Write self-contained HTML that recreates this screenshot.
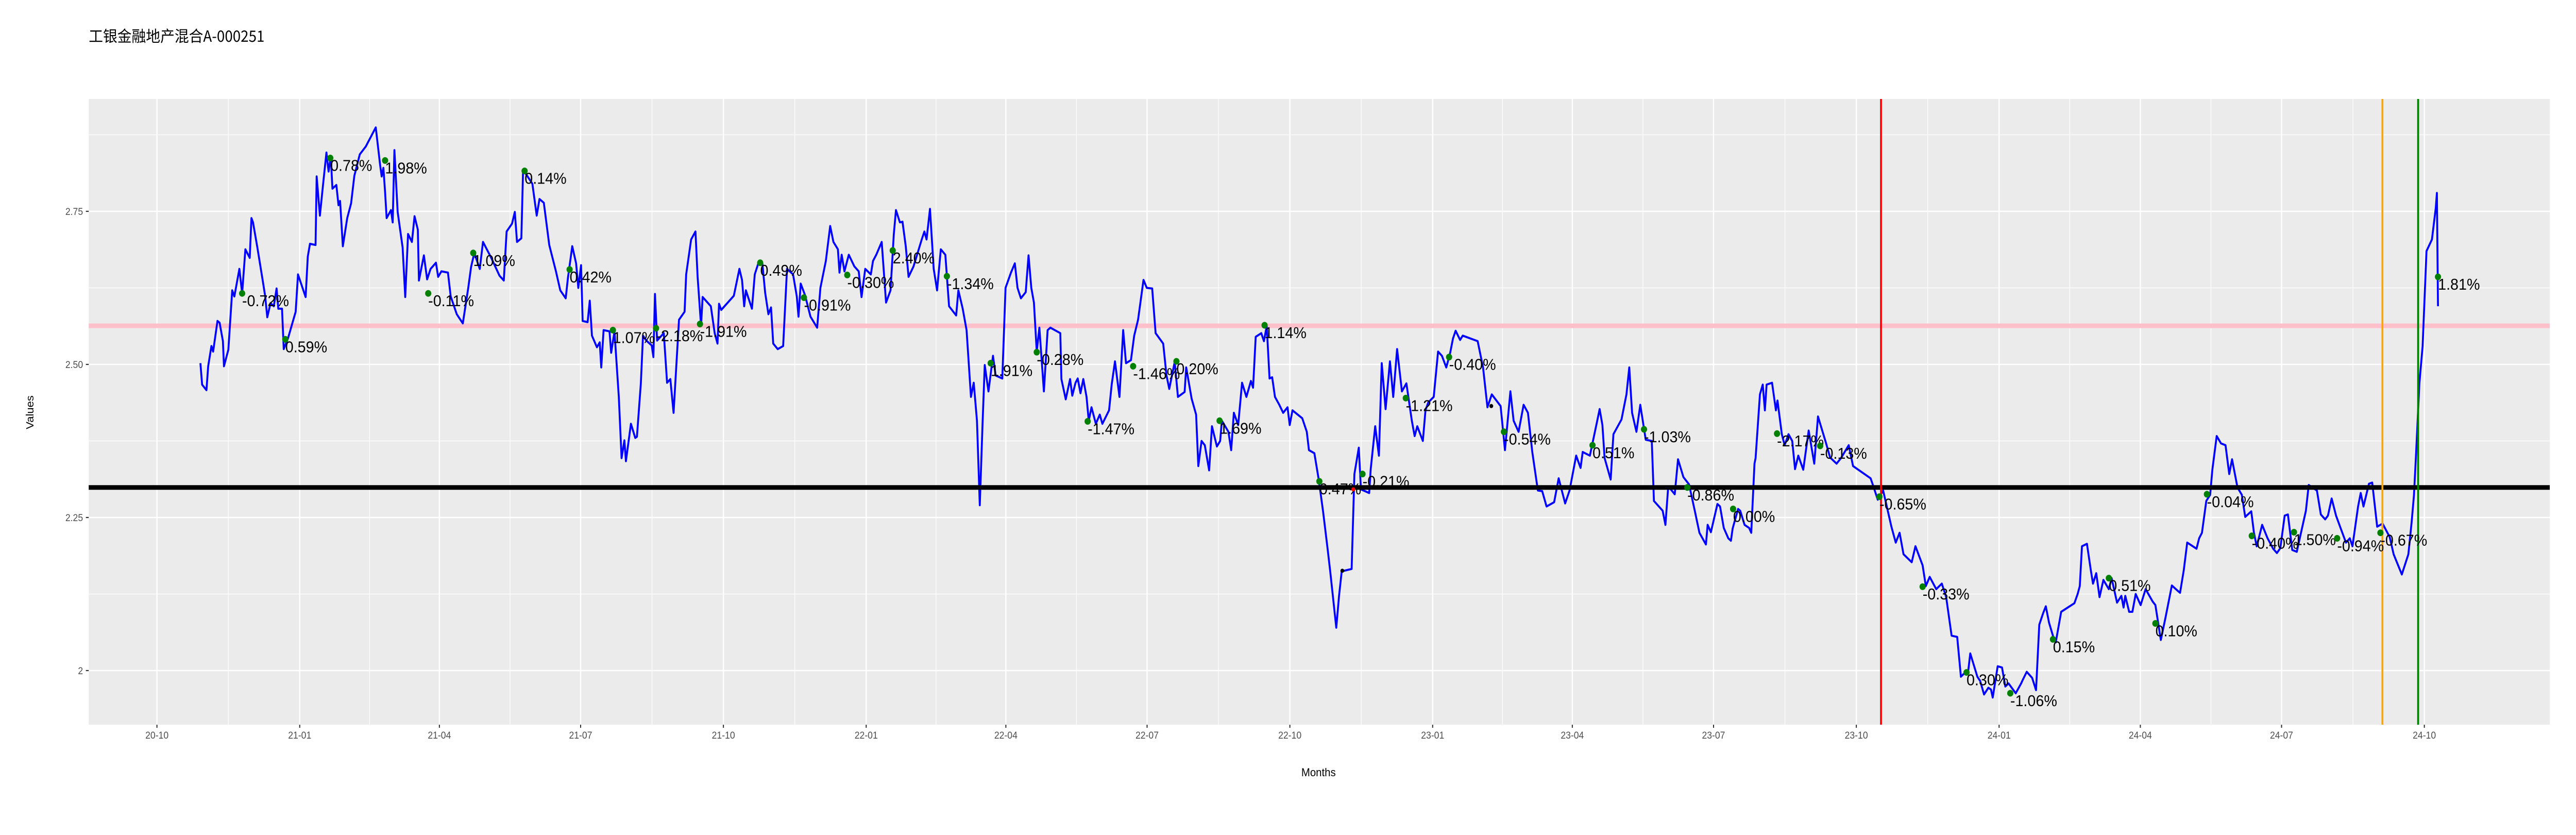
<!DOCTYPE html>
<html><head><meta charset="utf-8"><title>工银金融地产混合A-000251</title>
<style>
html,body{margin:0;padding:0;background:#fff;width:100%;height:100%;overflow:hidden;}
svg{display:block;width:100vw;height:100vh;}
text{font-family:"Liberation Sans","WenQuanYi Zen Hei",sans-serif;}
.lbl{font-family:"WenQuanYi Zen Hei","Liberation Sans",sans-serif;font-size:31px;fill:#000;}
.tick{font-family:"WenQuanYi Zen Hei","Liberation Sans",sans-serif;font-size:19px;fill:#4d4d4d;}
</style></head>
<body>
<svg id="chart" viewBox="0 0 5400 1620" preserveAspectRatio="none" xmlns="http://www.w3.org/2000/svg">
<text x="186" y="81" style="font-family:'WenQuanYi Zen Hei','Noto Sans CJK SC',sans-serif;font-size:30px;fill:#000">工银金融地产混合A-000251</text>
<rect x="186" y="192" width="5159" height="1214" fill="#ebebeb"/>
<g id="grid"></g>
<g id="axes"></g>
<g id="marks"></g>
<text x="2764" y="1506" text-anchor="middle" style="font-family:'WenQuanYi Zen Hei',sans-serif;font-size:22px;fill:#000">Months</text>
<text transform="translate(70,800) rotate(-90)" text-anchor="middle" style="font-family:'WenQuanYi Zen Hei',sans-serif;font-size:22px;fill:#000">Values</text>
</svg>
<script>
// ---- data (days since 2020-10-01, NAV values) ----
var days = [28.0,29.1,31.9,33.0,35.1,36.2,39.0,40.4,42.5,43.2,46.0,48.5,49.9,53.1,54.9,57.0,59.8,60.9,61.9,64.7,67.9,69.7,71.1,73.2,75.3,77.1,78.2,80.6,81.7,84.5,89.4,90.9,95.8,97.2,98.6,102.2,102.9,105.0,107.1,109.2,110.6,112.0,113.1,115.6,117.0,118.0,119.8,122.6,125.1,127.2,130.7,134.6,141.0,143.8,144.8,145.9,147.0,148.0,150.8,151.9,153.0,155.1,158.3,160.0,161.8,164.3,166.0,168.1,168.8,172.0,174.1,176.3,179.8,181.2,183.3,187.5,189.3,193.2,197.1,200.6,202.4,204.5,208.0,210.1,215.4,220.7,223.5,225.3,228.8,230.6,232.0,234.8,235.9,238.0,241.9,244.7,246.5,249.3,252.8,257.1,259.9,263.4,264.8,267.6,270.1,271.5,273.3,274.3,277.5,278.9,280.3,283.5,285.3,286.3,287.8,291.6,292.7,294.8,297.6,299.4,301.2,302.2,305.4,308.2,309.3,311.8,313.2,315.3,318.8,319.9,320.9,322.3,326.6,328.7,330.8,332.9,336.4,340.0,341.0,344.2,347.0,348.4,350.6,351.6,356.9,359.4,361.2,362.2,363.6,371.7,375.3,377.0,378.4,379.5,383.4,385.2,387.6,390.1,391.9,394.0,395.7,397.1,400.0,403.5,406.0,409.9,412.3,413.4,414.8,417.6,421.1,425.4,427.5,431.0,433.8,435.9,438.8,439.8,441.2,443.0,445.8,449.4,
452.2,454.0,456.4,460.0,461.4,463.5,467.0,469.8,472.7,474.8,476.2,478.7,480.4,482.5,484.3,487.5,492.8,494.5,495.9,498.1,500.5,502.7,505.1,508.0,510.4,515.0,516.4,519.2,521.7,524.5,526.3,528.4,530.2,532.0,533.4,535.8,538.7,540.4,544.7,546.8,550.3,552.8,554.5,556.7,559.8,561.6,563.4,565.1,566.9,568.6,571.5,573.9,575.7,582.1,582.8,585.6,588.4,589.8,591.9,593.3,595.1,596.9,599.0,600.4,602.2,605.0,607.5,609.2,613.5,615.2,617.3,620.2,622.6,624.4,627.6,629.7,632.2,635.7,637.8,641.3,643.5,648.4,650.5,652.3,655.8,657.9,662.2,663.2,666.7,669.6,671.0,673.1,675.2,678.0,679.8,683.0,685.1,686.2,690.4,692.2,693.9,696.7,699.2,702.0,704.9,706.3,708.0,711.6,713.3,715.1,716.9,718.6,720.4,723.2,725.7,728.5,729.9,731.7,738.0,740.9,742.3,745.8,748.6,751.4,754.3,756.0,759.9,761.7,763.4,769.8,771.6,774.4,775.8,781.1,782.1,785.0,787.4,789.2,791.7,794.5,796.6,799.1,802.2,805.1,808.6,810.4,812.1,815.7,817.4,819.2,822.7,825.5,828.0,830.8,833.3,835.1,836.8,839.7,841.4,851.0,854.5,857.3,860.1,865.8,868.6,872.1,874.2,877.4,880.6,883.4,886.2,889.8,892.6,895.4,900.3,903.2,907.4,910.2,914.5,917.3,918.7,923.3,927.9,929.6,931.4,932.8,936.7,938.5,943.7,946.9,948.7,950.5,953.3,955.8,959.3,963.2,964.6,970.2,972.0,973.8,978.0,980.1,983.6,987.2,991.0,993.9,998.1,999.2,1001.3,
1005.5,1007.2,1009.6,1012.5,1014.2,1015.3,1018.8,1020.2,1023.0,1025.9,1027.3,1029.4,1030.1,1032.9,1034.7,1036.1,1037.2,1040.7,1043.2,1044.2,1047.0,1048.8,1051.3,1053.7,1055.5,1057.6,1060.8,1064.3,1067.9,1070.3,1075.3,1078.1,1082.3,1085.1,1090.1,1092.9,1104.2,1106.0,1108.8,1112.3,1117.6,1120.4,1122.9,1125.4,1130.7,1133.1,1137.7,1139.8,1142.3,1146.5,1150.1,1152.9,1156.4,1160.0,1162.4,1166.0,1167.0,1168.4,1173.0,1174.8,1177.3,1180.1,1181.8,1182.9,1186.1,1188.9,1191.0,1193.1,1197.7,1201.2,1202.3,1204.8,1208.3,1210.8,1212.9,1215.4,1217.1,1219.2,1222.4,1223.5,1227.0,1235.5,1237.6,1239.0,1240.4,1243.6,1246.1,1247.5,1249.6,1251.7,1254.2,1257.7,1259.5,1263.0,1265.8,1267.2,1268.3,1270.8,1272.9,1275.0,1278.2,1281.4,1285.9,1287.7,1291.2,1294.1,1298.3,1301.8,1303.6,1306.0,1308.2,1314.2,1315.9,1317.7,1320.5,1323.0,1324.4,1327.2,1330.0,1332.9,1335.3,1337.1,1340.6,1343.4,1345.6,1349.5,1351.2,1353.0,1356.5,1360.0,1363.6,1366.0,1368.2,1371.0,1373.1,1375.9,1378.8,1384.7,1386.5,1391.8,1394.3,1397.1,1398.9,1401.3,1404.1,1407.0,1410.5,1413.0,1414.7,1418.3,1420.0,1421.8,1425.3,1427.4,1430.6,1434.1,1438.7,1441.2,1446.5,1450.7,1452.8,1454.3,1455.7,1457.8,1459.9,1462.4,1465.9,1468.4,1469.1,1469.8];
var navValues = [2.502,2.467,2.458,2.497,2.530,2.521,2.571,2.568,2.538,2.497,2.524,2.621,2.611,2.656,2.616,2.688,2.674,2.739,2.732,2.691,2.641,2.612,2.577,2.600,2.595,2.624,2.591,2.591,2.525,2.543,2.586,2.647,2.610,2.676,2.697,2.695,2.807,2.743,2.795,2.846,2.815,2.839,2.787,2.793,2.760,2.767,2.693,2.739,2.763,2.808,2.843,2.856,2.887,2.826,2.807,2.821,2.782,2.739,2.752,2.732,2.850,2.749,2.691,2.610,2.713,2.700,2.742,2.720,2.637,2.678,2.639,2.656,2.666,2.643,2.652,2.650,2.611,2.582,2.567,2.625,2.659,2.682,2.656,2.700,2.674,2.645,2.637,2.717,2.730,2.749,2.700,2.706,2.817,2.810,2.795,2.743,2.770,2.764,2.695,2.652,2.621,2.608,2.641,2.693,2.665,2.625,2.662,2.571,2.569,2.604,2.547,2.528,2.536,2.495,2.556,2.554,2.519,2.554,2.447,2.347,2.376,2.342,2.403,2.380,2.382,2.469,2.547,2.539,2.531,2.512,2.615,2.539,2.551,2.470,2.476,2.421,2.573,2.586,2.647,2.704,2.717,2.643,2.563,2.610,2.595,2.551,2.534,2.599,2.589,2.612,2.656,2.638,2.595,2.621,2.591,2.647,2.666,2.665,2.617,2.582,2.593,2.534,2.525,2.530,2.656,2.647,2.611,2.578,2.632,2.613,2.578,2.560,2.625,2.669,2.726,2.700,2.688,2.650,2.679,2.652,2.679,2.660,
2.652,2.610,2.656,2.647,2.669,2.679,2.700,2.601,2.621,2.713,2.752,2.732,2.733,2.693,2.643,2.660,2.704,2.717,2.704,2.754,2.656,2.621,2.688,2.679,2.595,2.580,2.621,2.591,2.556,2.447,2.470,2.408,2.270,2.405,2.499,2.456,2.514,2.482,2.477,2.625,2.650,2.665,2.625,2.608,2.618,2.678,2.625,2.601,2.521,2.560,2.456,2.556,2.560,2.551,2.476,2.443,2.476,2.449,2.470,2.477,2.453,2.476,2.447,2.408,2.430,2.403,2.418,2.403,2.425,2.467,2.505,2.447,2.556,2.502,2.507,2.547,2.573,2.638,2.625,2.624,2.551,2.534,2.482,2.460,2.504,2.447,2.455,2.495,2.444,2.418,2.334,2.375,2.368,2.327,2.399,2.366,2.375,2.408,2.390,2.360,2.421,2.401,2.470,2.447,2.473,2.462,2.545,2.551,2.538,2.563,2.477,2.479,2.447,2.434,2.421,2.430,2.401,2.425,2.412,2.390,2.360,2.355,2.312,2.260,2.199,2.162,2.070,2.122,2.162,2.166,2.321,2.364,2.296,2.290,2.329,2.399,2.351,2.502,2.427,2.505,2.447,2.525,2.456,2.469,2.408,2.383,2.399,2.375,2.425,2.438,2.447,2.521,2.514,2.495,2.519,2.542,2.555,2.540,2.547,2.538,2.495,2.430,2.451,2.432,2.360,2.456,2.408,2.390,2.434,2.421,2.357,2.294,2.293,2.268,2.275,2.314,2.273,2.294,2.351,2.331,2.357,2.351,2.406,2.427,2.401,2.347,2.312,2.386,2.410,2.451,2.495,2.421,2.390,2.434,2.377,2.375,2.277,2.261,2.238,2.301,2.288,2.345,2.316,2.304,2.260,2.225,2.206,2.238,2.226,2.272,
2.268,2.233,2.216,2.212,2.232,2.264,2.261,2.238,2.233,2.225,2.338,2.347,2.451,2.467,2.425,2.467,2.470,2.425,2.441,2.386,2.368,2.386,2.375,2.329,2.351,2.328,2.392,2.338,2.415,2.373,2.348,2.338,2.347,2.368,2.334,2.314,2.301,2.279,2.294,2.235,2.209,2.225,2.190,2.177,2.203,2.172,2.138,2.153,2.133,2.142,2.120,2.057,2.055,1.990,1.999,1.997,2.028,1.990,1.983,1.961,1.972,1.969,1.956,2.007,2.005,1.974,1.979,1.963,1.979,1.985,1.998,1.988,1.968,2.075,2.094,2.105,2.078,2.051,2.046,2.096,2.110,2.125,2.138,2.203,2.207,2.164,2.142,2.159,2.120,2.148,2.133,2.151,2.111,2.122,2.103,2.122,2.096,2.096,2.125,2.107,2.133,2.113,2.107,2.050,2.085,2.139,2.131,2.127,2.164,2.209,2.199,2.216,2.225,2.277,2.287,2.328,2.383,2.371,2.368,2.321,2.345,2.299,2.287,2.251,2.260,2.225,2.203,2.238,2.216,2.199,2.192,2.200,2.253,2.255,2.197,2.194,2.261,2.303,2.294,2.255,2.247,2.253,2.281,2.253,2.233,2.209,2.216,2.203,2.268,2.290,2.268,2.305,2.307,2.235,2.240,2.218,2.190,2.157,2.190,2.242,2.286,2.355,2.469,2.530,2.685,2.704,2.756,2.780,2.595,2.643];
var markerDays = [54.9,82.7,111.7,147.0,174.8,203.8,236.9,265.9,293.8,321.6,349.9,388.7,416.9,444.8,474.1,509.0,537.2,566.9,599.7,629.0,656.9,684.7,713.7,749.0,776.8,804.7,832.6,867.9,925.0,958.2,986.1,1015.6,1043.9,1071.7,1109.9,1137.7,1166.0,1194.2,1221.7,1257.7,1287.7,1320.9,1349.8,1377.0,1404.8,1432.7,1469.8];
var markerValues = [2.616,2.541,2.837,2.833,2.616,2.682,2.816,2.655,2.556,2.559,2.566,2.666,2.609,2.646,2.686,2.644,2.502,2.520,2.407,2.497,2.505,2.408,2.564,2.309,2.321,2.445,2.512,2.390,2.368,2.394,2.299,2.264,2.387,2.367,2.284,2.137,1.997,1.963,2.051,2.151,2.077,2.288,2.220,2.226,2.216,2.225,2.643];
var markerLabels = ["-0.72%","0.59%","0.78%","1.98%","-0.11%","1.09%","0.14%","0.42%","1.07%","-2.18%","-1.91%","0.49%","-0.91%","-0.30%","2.40%","-1.34%","1.91%","-0.28%","-1.47%","-1.46%","0.20%","1.69%","1.14%","0.47%","-0.21%","-1.21%","-0.40%","-0.54%","0.51%","-1.03%","-0.86%","0.00%","-2.17%","-0.13%","-0.65%","-0.33%","0.30%","-1.06%","0.15%","0.51%","0.10%","-0.04%","-0.40%","1.50%","-0.94%","-0.67%","1.81%"];
var smallDotDays = [770.9,763.8,859.8];
var smallDotValues = [2.296,2.163,2.432];
var smallDotColors = ["#ff0000","#000000","#000000"];
var hlineValues = [2.563,2.299];
var hlineColors = ["#ffc0cb","#000000"];
var vlineDays = [1110.9,1434,1457];
var vlineColors = ["#ff0000","#ffa500","#008000"];
var yTicks = [2,2.25,2.5,2.75];
var yTickLabels = ["2","2.25","2.50","2.75"];
var yMinor = [2.125,2.375,2.625,2.875];
var xTickDays = [0,92,182,273,365,457,547,638,730,822,912,1003,1095,1187,1278,1369,1461];
var xTickLabels = ["20-10","21-01","21-04","21-07","21-10","22-01","22-04","22-07","22-10","23-01","23-04","23-07","23-10","24-01","24-04","24-07","24-10"];

var NS="http://www.w3.org/2000/svg";
var PL=186,PR=5345,PT=192,PB=1406;
function xs(d){return 329+d*3.2533;}
function ys(v){return 410+(2.75-v)*1188;}
function mk(tag,attrs,parent){var e=document.createElementNS(NS,tag);for(var k in attrs)e.setAttribute(k,attrs[k]);parent.appendChild(e);return e;}
var grid=document.getElementById('grid'),axes=document.getElementById('axes'),marks=document.getElementById('marks');

yMinor.forEach(function(v){var l=mk('line',{x1:PL,x2:PR,y1:ys(v),y2:ys(v),stroke:'#fff','stroke-width':1.3},grid);

});
for(var i=0;i<xTickDays.length-1;i++){var md=(xTickDays[i]+xTickDays[i+1])/2;var l=mk('line',{x1:xs(md),x2:xs(md),y1:PT,y2:PB,stroke:'#fff','stroke-width':1.3},grid);

}
yTicks.forEach(function(v,i){var y=ys(v);
var l=mk('line',{x1:PL,x2:PR,y1:y,y2:y,stroke:'#fff','stroke-width':2.6},grid);


var t=mk('line',{x1:PL-6,x2:PL,y1:y,y2:y,stroke:'#333','stroke-width':2.2},axes);


var tx=mk('text',{x:PL-12,y:y+7,'text-anchor':'end','class':'tick'},axes);tx.textContent=yTickLabels[i];

});
xTickDays.forEach(function(d,i){var x=xs(d);
var l=mk('line',{x1:x,x2:x,y1:PT,y2:PB,stroke:'#fff','stroke-width':2.6},grid);


var t=mk('line',{x1:x,x2:x,y1:PB,y2:PB+6,stroke:'#333','stroke-width':2.2},axes);


var tx=mk('text',{x:x,y:PB+27,'text-anchor':'middle','class':'tick'},axes);tx.textContent=xTickLabels[i];

});

var hp=mk('line',{x1:PL,x2:PR,y1:ys(hlineValues[0]),y2:ys(hlineValues[0]),stroke:hlineColors[0],'stroke-width':9},marks);


var pts=days.map(function(d,i){return xs(d).toFixed(1)+','+ys(navValues[i]).toFixed(1);}).join(' ');
var pl=mk('polyline',{points:pts,fill:'none',stroke:'#0000ff','stroke-width':4,'stroke-linejoin':'round'},marks);


var hb=mk('line',{x1:PL,x2:PR,y1:ys(hlineValues[1]),y2:ys(hlineValues[1]),stroke:hlineColors[1],'stroke-width':9},marks);


vlineDays.forEach(function(d,i){var v=mk('line',{x1:xs(d),x2:xs(d),y1:PT,y2:PB,stroke:vlineColors[i],'stroke-width':4},marks);

});
markerDays.forEach(function(d,i){var cx=xs(d),cy=ys(markerValues[i]);
var c=mk('circle',{cx:cx,cy:cy,r:6.5,fill:'#008000'},marks);


var t=mk('text',{x:cx,y:cy+25,'class':'lbl'},marks);t.textContent=markerLabels[i];

});
smallDotDays.forEach(function(d,i){var c=mk('circle',{cx:xs(d),cy:ys(smallDotValues[i]),r:4,fill:smallDotColors[i]},marks);

});
</script>
</body></html>
